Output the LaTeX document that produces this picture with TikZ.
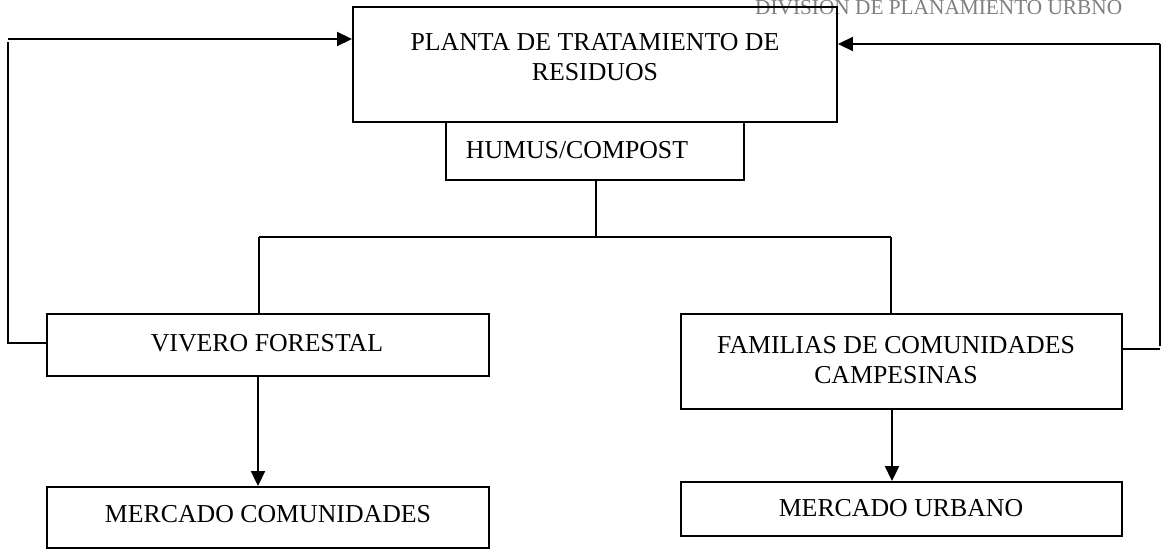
\documentclass[tikz,border=0pt]{standalone}
\usepackage{fontspec}
\setmainfont{Liberation Serif}
\usetikzlibrary{arrows.meta}
\begin{document}
\begin{tikzpicture}[x=1pt,y=-1pt,
  boxn/.style={draw, line width=1.9pt, inner sep=0pt},
  txt/.style={inner sep=0pt, align=center, font=\fontsize{25.8}{30}\selectfont},
  conn/.style={line width=1.9pt},
  arr/.style={line width=1.9pt, -{Triangle[length=15pt,width=14pt]}}]
\useasboundingbox (0,0) rectangle (1165,549);
% header
\node[inner sep=0pt, anchor=base west, text=black!50, font=\fontsize{21.3}{24}\selectfont] (hdr) at (755,14.5) {DIVISION DE PLANAMIENTO URBNO};
% boxes
\node[boxn, minimum width=484pt, minimum height=115pt] (planta) at (595,64.5) {};
\node[txt] (plantaT) at (595,57) {PLANTA DE TRATAMIENTO DE\\RESIDUOS};
\node[boxn, minimum width=298pt, minimum height=58pt] (humus) at (595,151) {};
\node[txt] (humusT) at (577,150) {HUMUS/COMPOST};
\node[boxn, minimum width=442pt, minimum height=62pt] (vivero) at (268,345) {};
\node[txt] (viveroT) at (267,343) {VIVERO FORESTAL};
\node[boxn, minimum width=442pt, minimum height=61pt] (mcom) at (268,517.5) {};
\node[txt] (mcomT) at (268,514) {MERCADO COMUNIDADES};
\node[boxn, minimum width=441pt, minimum height=95pt] (fam) at (901.5,361.5) {};
\node[txt] (famT) at (896,360) {FAMILIAS DE COMUNIDADES\\CAMPESINAS};
\node[boxn, minimum width=441pt, minimum height=54pt] (murb) at (901.5,509) {};
\node[txt] (murbT) at (901,508) {MERCADO URBANO};
% coordinates
\coordinate (split) at (596,237);
\coordinate (lft) at (259,237);
\coordinate (rgt) at (891,237);
\coordinate (lb) at (8,343);
\coordinate (lt) at (8,39);
\coordinate (rb) at (1160,349);
\coordinate (rt) at (1160,44);
% tree
\draw[conn] (humus.south -| split) -- (split);
\draw[conn] (lft) -- (rgt);
\draw[conn] (lft) -- (lft |- vivero.north);
\draw[conn] (rgt) -- (rgt |- fam.north);
% downward arrows
\draw[arr] (vivero.south -| 258,0) -- (mcom.north -| 258,0);
\draw[arr] (fam.south -| 892,0) -- (murb.north -| 892,0);
% feedback loops
\draw[conn] (vivero.west |- lb) -- (lb) -- ([yshift=-3pt]lt);
\draw[arr] (lt) -- (planta.west |- lt);
\draw[conn] (fam.east |- rb) -- (rb);
\draw[conn] ([yshift=3pt]rb) -- (rt);
\draw[arr] (rt) -- (planta.east |- rt);
\end{tikzpicture}
\end{document}
